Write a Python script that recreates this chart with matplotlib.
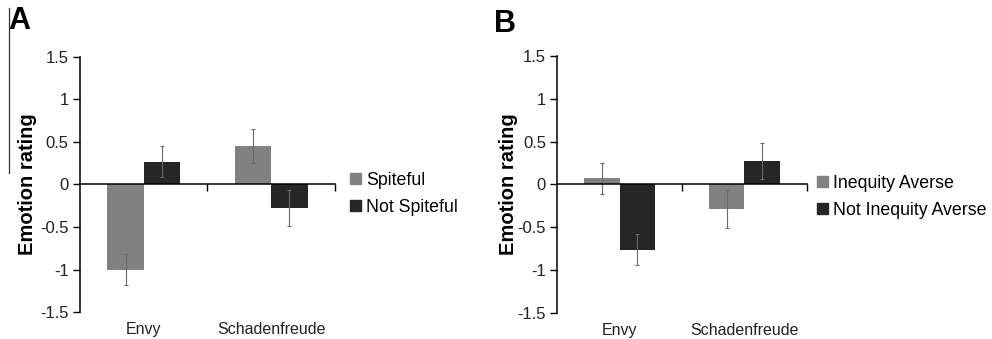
import numpy as np
import matplotlib
matplotlib.use('Agg')
import matplotlib.pyplot as plt
from matplotlib.lines import Line2D
from matplotlib.patches import Patch

plt.rcParams['font.family'] = ['Liberation Sans', 'DejaVu Sans']

# data
categories = ['Envy', 'Schadenfreude']
spiteful = [-1.00, 0.45]
spiteful_err = [0.18, 0.20]
not_spiteful = [0.27, -0.28]
not_spiteful_err = [0.18, 0.21]

ineq_averse = [0.07, -0.29]
ineq_averse_err = [0.18, 0.22]
not_ineq_averse = [-0.76, 0.27]
not_ineq_averse_err = [0.18, 0.21]

yticks = [-1.5, -1, -0.5, 0, 0.5, 1, 1.5]
ytick_labels = ['-1.5', '-1', '-0.5', '0', '0.5', '1', '1.5']

light = '#818181'
dark = '#262626'
err_col = '#6a6a6a'

fig = plt.figure(figsize=(9.92, 3.39), dpi=100)
axA = fig.add_axes([0.0806, 0.0796, 0.2571, 0.7524])
axB = fig.add_axes([0.5615, 0.0767, 0.2520, 0.7583])


def draw_panel(ax, a, a_err, b, b_err, labels, leg_anchor, letter, letter_xy, ylab_x):
    x = np.arange(len(categories))
    w = 0.285
    ax.bar(x - w / 2, a, w, color=light, yerr=a_err, capsize=1.5,
           error_kw=dict(ecolor=err_col, elinewidth=0.8, capthick=0.8), zorder=2)
    ax.bar(x + w / 2, b, w, color=dark, yerr=b_err, capsize=1.5,
           error_kw=dict(ecolor=err_col, elinewidth=0.8, capthick=0.8), zorder=2)
    ax.set_xlim(-0.5, 1.5)
    ax.set_ylim(-1.5, 1.5)
    ax.spines['top'].set_visible(False)
    ax.spines['right'].set_visible(False)
    ax.spines['bottom'].set_position(('data', 0))
    ax.spines['bottom'].set_zorder(3)
    for s in ['left', 'bottom']:
        ax.spines[s].set_linewidth(1.1)
    ax.set_yticks(yticks)
    ax.set_yticklabels(ytick_labels, fontsize=12, color='#222222')
    ax.tick_params(axis='y', direction='out', length=5, width=1.0, pad=3)
    ax.set_xticks([0.5, 1.5])
    ax.set_xticklabels([])
    ax.tick_params(axis='x', direction='out', length=5, width=1.0)
    for xi, c in zip(x, categories):
        ax.text(xi, -0.07, c, transform=ax.get_xaxis_transform(),
                ha='center', va='center', fontsize=11.5, color='#222222')
    ax.set_ylabel('Emotion rating', fontsize=14.5, fontweight='bold')
    ax.yaxis.set_label_coords(ylab_x, 0.5)
    handles = [Patch(color=light, label=labels[0]), Patch(color=dark, label=labels[1])]
    fig.legend(handles=handles, loc='upper left', bbox_to_anchor=leg_anchor,
               frameon=False, fontsize=12.8, handlelength=0.6, handleheight=0.6,
               handletextpad=0.3, labelspacing=0.55, borderaxespad=0, borderpad=0)
    fig.text(letter_xy[0], letter_xy[1], letter, fontsize=22, fontweight='bold',
             ha='left', va='top')


draw_panel(axA, spiteful, spiteful_err, not_spiteful, not_spiteful_err,
           ['Spiteful', 'Not Spiteful'], (0.353, 1 - 172 / 339), 'A',
           (0.008, 1 - 6 / 339), -0.168)
draw_panel(axB, ineq_averse, ineq_averse_err, not_ineq_averse, not_ineq_averse_err,
           ['Inequity Averse', 'Not Inequity Averse'], (0.824, 1 - 175 / 339), 'B',
           (0.498, 1 - 9 / 339), -0.158)

# thin scan line at the left edge of panel A
fig.add_artist(Line2D([9 / 992, 9 / 992], [1 - 8 / 339, 1 - 173 / 339],
                      transform=fig.transFigure, color='#333333', linewidth=0.9))

fig.savefig('out.png', dpi=100)
